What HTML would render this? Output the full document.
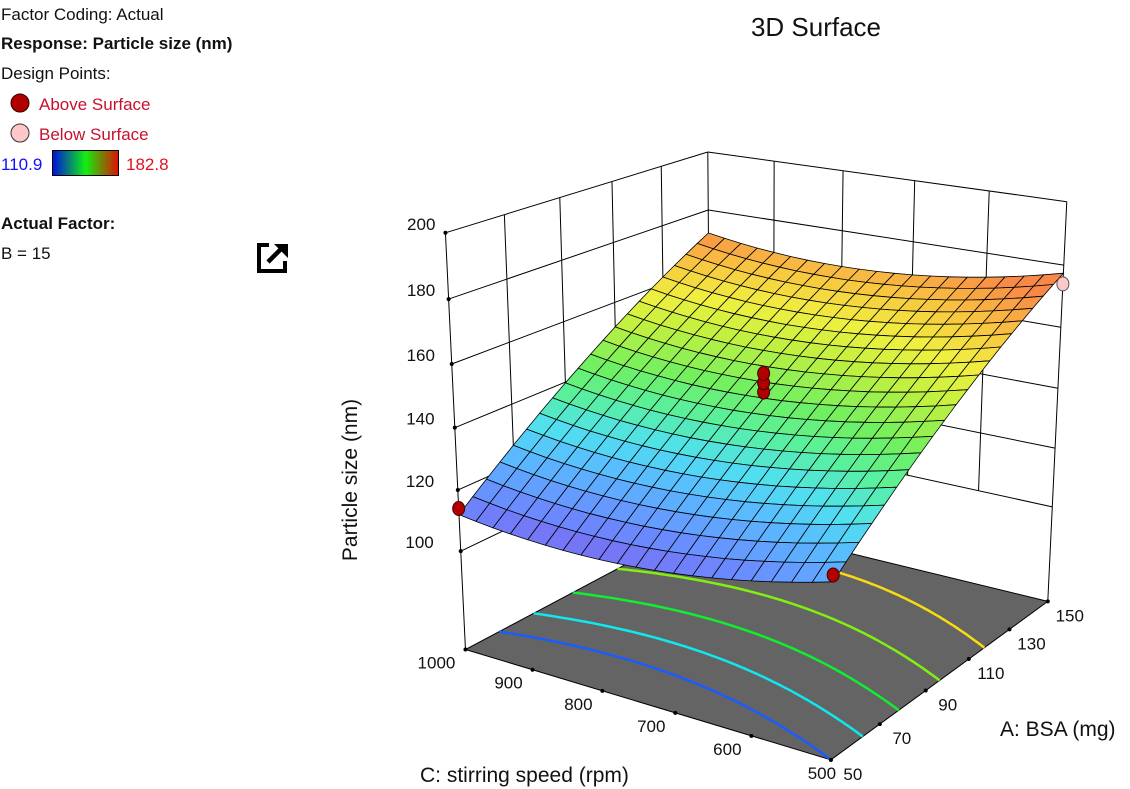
<!DOCTYPE html>
<html><head><meta charset="utf-8">
<style>
html,body{margin:0;padding:0;background:#fff;}
svg{display:block;font-family:"Liberation Sans",sans-serif;}
</style></head>
<body>
<svg id="chart" width="1130" height="789" viewBox="0 0 1130 789" xmlns="http://www.w3.org/2000/svg">
  <g font-size="17">
    <text x="1" y="20" fill="#111">Factor Coding: Actual</text>
    <text x="1" y="49" fill="#111" font-weight="bold">Response: Particle size (nm)</text>
    <text x="1" y="79" fill="#111">Design Points:</text>
    <circle cx="20" cy="103" r="9" fill="#b00000" stroke="#300" stroke-width="1"/>
    <text x="39" y="110" fill="#c8102e">Above Surface</text>
    <circle cx="20" cy="133" r="9" fill="#ffc8c8" stroke="#333" stroke-width="1"/>
    <text x="39" y="140" fill="#c8102e">Below Surface</text>
    <defs>
      <linearGradient id="lg" x1="0" x2="1" y1="0" y2="0">
        <stop offset="0" stop-color="#0010e0"/>
        <stop offset="0.5" stop-color="#10f010"/>
        <stop offset="1" stop-color="#e01000"/>
      </linearGradient>
    </defs>
    <text x="1" y="170" fill="#1010ff">110.9</text>
    <rect x="52.5" y="150.5" width="66" height="25" fill="url(#lg)" stroke="#000" stroke-width="1"/>
    <text x="126" y="170" fill="#e01020">182.8</text>
    <text x="1" y="229" fill="#111" font-weight="bold">Actual Factor:</text>
    <text x="1" y="259" fill="#111">B = 15</text>
    <g fill="none" stroke="#000" stroke-width="4">
      <path d="M269 245 H259 V271 H285 V261"/>
      <path d="M268 262 L283 247" stroke-width="4.5"/>
      <polygon points="274,244 288,244 288,258" fill="#000" stroke="none"/>
    </g>
  </g>
  <text x="816" y="36" font-size="26" text-anchor="middle" fill="#111">3D Surface</text>
  <text x="0" y="0" font-size="21" text-anchor="middle" fill="#111" transform="translate(357,480) rotate(-90)">Particle size (nm)</text>
  <text x="420" y="782" font-size="21" fill="#111">C: stirring speed (rpm)</text>
  <text x="1000" y="736" font-size="21" fill="#111">A: BSA (mg)</text>
  <g id="plot"></g>
</svg>
<script>
// ---- data ----
const zTicks = [100, 120, 140, 160, 180, 200];
const aTicks = [50, 70, 90, 110, 130, 150];
const cTicks = [1000, 900, 800, 700, 600, 500];
// quadratic model coefficients (coded units: a=(A-100)/50, c=(C-750)/250)
const coefB0 = 143, coefA = 29.1, coefC = -3.6, coefAC = 0.875, coefAA = -3.9, coefCC = 6.5;
const contourLevels = [121, 130, 140, 151, 162.5];
const contourColors = ['#1a5cff', '#10e8f0', '#10ee30', '#80f010', '#f8dc10'];
const pointA = [50, 100, 100, 100, 50, 150];
const pointC = [1000, 750, 750, 750, 500, 500];
const pointZ = [114, 145, 148, 151, 123, 174];
const pointAbove = [true, true, true, true, true, false];
const colorLo = 108, colorHi = 173, floorZ = 67;

// ---- camera calibration (world -> screen reference correspondences) ----
const calib = [
 [50,1000,200,447,233],[50,1000,180,450,297],[50,1000,100,462,548],[50,1000,67,466,651],
 [150,1000,200,708,152],[150,500,200,1066,203],[150,500,180,1063,263],[150,500,140,1056,385],
 [150,500,100,1051,506],[150,500,67,1048,603],[50,500,67,831,762],[150,700,200,922,183],[90,1000,200,552,200]
];
function nrm(A,C,z){return [(A-100)/50,(C-750)/250,(z-133)/67];}
function solve(M,v){const n=v.length;for(let i=0;i<n;i++){let p=i;for(let r=i+1;r<n;r++)if(Math.abs(M[r][i])>Math.abs(M[p][i]))p=r;[M[i],M[p]]=[M[p],M[i]];[v[i],v[p]]=[v[p],v[i]];for(let r=0;r<n;r++){if(r===i)continue;const f=M[r][i]/M[i][i];for(let k=i;k<n;k++)M[r][k]-=f*M[i][k];v[r]-=f*v[i];}}return v.map((x,i)=>x/M[i][i]);}
const rows=[],rhs=[];
calib.forEach(q=>{const [X,Y,Z]=nrm(q[0],q[1],q[2]);const u=(q[3]-700)/400,v=(q[4]-450)/400;
 rows.push([X,Y,Z,1,0,0,0,0,-u*X,-u*Y,-u*Z]);rhs.push(u);
 rows.push([0,0,0,0,X,Y,Z,1,-v*X,-v*Y,-v*Z]);rhs.push(v);});
const NT=[],Nb=[];
for(let i=0;i<11;i++){NT.push(new Array(11).fill(0));Nb.push(0);}
rows.forEach((r,k)=>{for(let i=0;i<11;i++){Nb[i]+=r[i]*rhs[k];for(let j=0;j<11;j++)NT[i][j]+=r[i]*r[j];}});
const P=solve(NT,Nb);
function proj(A,C,z){const [X,Y,Z]=nrm(A,C,z);const w=P[8]*X+P[9]*Y+P[10]*Z+1;
 return [((P[0]*X+P[1]*Y+P[2]*Z+P[3])/w)*400+700,((P[4]*X+P[5]*Y+P[6]*Z+P[7])/w)*400+450];}
function model(a,c){return coefB0+coefA*a+coefC*c+coefAC*a*c+coefAA*a*a+coefCC*c*c;}
const stops=[[0,[123,104,240]],[0.12,[106,140,255]],[0.25,[90,184,255]],[0.35,[80,224,240]],[0.45,[88,240,160]],[0.55,[112,240,96]],[0.68,[192,240,64]],[0.78,[240,240,64]],[0.88,[248,200,64]],[1,[248,136,72]]];
function color(v){let t=(v-colorLo)/(colorHi-colorLo);t=Math.max(0,Math.min(1,t));
 for(let i=1;i<stops.length;i++){if(t<=stops[i][0]){const s0=stops[i-1],s1=stops[i];const f=(t-s0[0])/(s1[0]-s0[0]);
 return 'rgb('+s0[1].map((x,k)=>Math.round(x+(s1[1][k]-x)*f)).join(',')+')';}}return 'rgb(248,136,72)';}

const NS='http://www.w3.org/2000/svg';
const plot=document.getElementById('plot');
function mk(tag,attrs,parent){const e=document.createElementNS(NS,tag);for(const k in attrs)e.setAttribute(k,attrs[k]);(parent||plot).appendChild(e);return e;}
function line(p,q,name,stroke,w){const e=mk('line',{x1:p[0],y1:p[1],x2:q[0],y2:q[1],stroke:stroke||'#000','stroke-width':w||1});
 
 return e;}
const pt=a=>a.map(p=>p[0].toFixed(1)+','+p[1].toFixed(1)).join(' ');

// walls
zTicks.forEach(z=>{
 line(proj(50,1000,z),proj(150,1000,z),'left-wall-gridline');
 line(proj(150,1000,z),proj(150,500,z),'right-wall-gridline');
});
aTicks.forEach(A=>{if(A>50)line(proj(A,1000,100),proj(A,1000,200),'left-wall-vertical');});
cTicks.forEach(C=>{if(C<1000&&C>500)line(proj(150,C,100),proj(150,C,200),'right-wall-vertical');});
line(proj(50,1000,floorZ),proj(50,1000,200),'z-axis-line');
line(proj(150,500,floorZ),proj(150,500,200),'right-axis-line');

// floor
const fl=mk('polygon',{points:pt([proj(50,1000,floorZ),proj(50,500,floorZ),proj(150,500,floorZ),proj(150,1000,floorZ)]),fill:'#646464',stroke:'#000','stroke-width':1});



// contours on floor
contourLevels.forEach((L,li)=>{
 const ptsC=[];
 for(let k=0;k<=80;k++){const c=-1+2*k/80;const qa=coefAA,qb=coefA+coefAC*c,qc=coefB0+coefC*c+coefCC*c*c-L;
  const d=qb*qb-4*qa*qc;if(d<0)continue;const r1=(-qb+Math.sqrt(d))/(2*qa),r2=(-qb-Math.sqrt(d))/(2*qa);
  let a=null;if(r1>=-1&&r1<=1)a=r1;else if(r2>=-1&&r2<=1)a=r2;if(a===null)continue;
  ptsC.push(proj(100+50*a,750+250*c,floorZ));}
 if(ptsC.length<2)return;
 const e=mk('polyline',{points:pt(ptsC),fill:'none',stroke:contourColors[li],'stroke-width':2.5});
 
 
});

// ticks & labels
function tickDot(p,name){const e=mk('circle',{cx:p[0],cy:p[1],r:2,fill:'#000'});
 
 }
function label(x,y,txt,name,anchor){const e=mk('text',{x:x,y:y,'font-size':17,fill:'#111','text-anchor':anchor||'middle'});e.textContent=txt;
 
 }
zTicks.forEach(z=>{const p=proj(50,1000,z);tickDot(p,'z-tick');label(p[0]-10-(200-z)*0.17,p[1]-3,String(z),'z-tick-label','end');});
cTicks.forEach(C=>{const p=proj(50,C,floorZ);tickDot(p,'c-tick');const dx=C===500?-9:(C===1000?-29:-24);label(p[0]+dx,p[1]+19,String(C),'c-tick-label');});
aTicks.forEach(A=>{const p=proj(A,500,floorZ);tickDot(p,'a-tick');label(p[0]+22,p[1]+20,String(A),'a-tick-label');});

// surface
const N=20,quads=[];
for(let i=0;i<N;i++)for(let j=0;j<N;j++){
 const a0=-1+2*i/N,a1=-1+2*(i+1)/N,c0=-1+2*j/N,c1=-1+2*(j+1)/N;
 const P4=[[a0,c0],[a1,c0],[a1,c1],[a0,c1]].map(q=>proj(100+50*q[0],750+250*q[1],model(q[0],q[1])));
 quads.push({k:i+j,p:P4,v:model((a0+a1)/2,(c0+c1)/2)});}
quads.sort((x,y)=>y.k-x.k);
const sg=mk('g',{});


quads.forEach(q=>{const e=mk('polygon',{points:pt(q.p),fill:color(q.v),stroke:'#000','stroke-width':0.8,'stroke-linejoin':'round'},sg);
 
 });

// design points
pointA.forEach((A,i)=>{const p=proj(A,pointC[i],pointZ[i]);
 const e=mk('ellipse',{cx:p[0],cy:p[1],rx:6,ry:7,fill:pointAbove[i]?'#b00000':'#ffc8c8',stroke:pointAbove[i]?'#400':'#555','stroke-width':1});
 
 });
</script>
</body></html>
